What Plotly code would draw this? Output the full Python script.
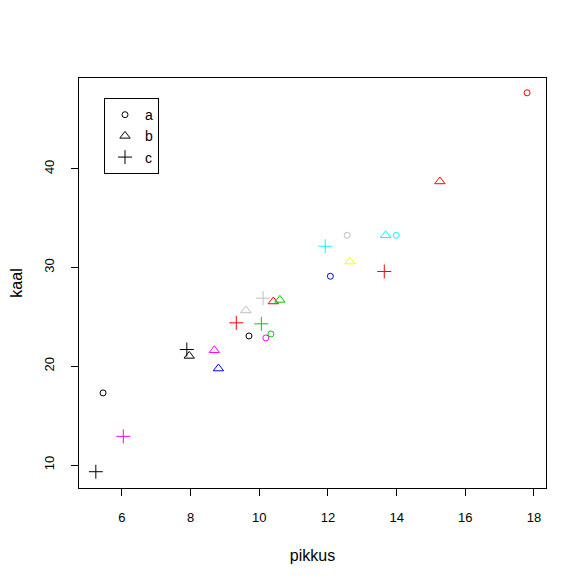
import plotly.graph_objects as go

# group a (circles)
a_x = [5.45, 9.70, 10.19, 10.34, 12.56, 13.99, 12.07, 17.80]
a_y = [17.30, 23.07, 22.87, 23.27, 33.27, 33.27, 29.12, 47.70]
a_col = ["black", "black", "magenta", "#00CD00", "#BEBEBE", "cyan", "blue", "red"]

# group b (triangles)
b_x = [9.61, 10.41, 10.60, 7.96, 8.69, 8.81, 15.26, 13.68, 12.64]
b_y = [25.65, 26.56, 26.72, 21.05, 21.62, 19.77, 38.72, 33.27, 30.61]
b_col = ["#BEBEBE", "red", "#00CD00", "black", "magenta", "blue", "red", "cyan", "yellow"]

# group c (crosses)
c_x = [11.92, 13.64, 10.11, 9.33, 10.06, 7.89, 6.04, 5.24]
c_y = [32.16, 29.60, 26.90, 24.40, 24.30, 21.70, 12.90, 9.32]
c_col = ["cyan", "red", "#BEBEBE", "red", "#00CD00", "black", "magenta", "black"]

x_ticks = [6, 8, 10, 12, 14, 16, 18]
y_ticks = [10, 20, 30, 40]

groups = [
    ("a", a_x, a_y, a_col, "circle-open", 6),
    ("b", b_x, b_y, b_col, "triangle-up-open", 9),
    ("c", c_x, c_y, c_col, "cross-thin-open", 10),
]

fig = go.Figure()
for name, xs, ys, cols, sym, sz in groups:
    fig.add_trace(go.Scatter(
        x=xs, y=ys, mode="markers", showlegend=False,
        marker=dict(symbol=sym, size=sz, color=cols, line=dict(width=1, color=cols)),
    ))
for name, xs, ys, cols, sym, sz in groups:
    fig.add_trace(go.Scatter(
        x=[None], y=[None], mode="markers", name=name,
        marker=dict(symbol=sym, size=sz, color="black", line=dict(width=1, color="black")),
    ))

font = dict(family="Liberation Sans, Arial, sans-serif", size=13, color="black")
fig.update_layout(
    width=586, height=585,
    margin=dict(l=71, r=48, t=70, b=105, autoexpand=False),
    paper_bgcolor="white", plot_bgcolor="white",
    font=font,
    legend=dict(x=0.0535, y=0.951, xanchor="left", yanchor="top",
                bordercolor="black", borderwidth=1, bgcolor="white",
                itemwidth=30, tracegroupgap=0, font=dict(size=14)),
    xaxis=dict(range=[4.75, 18.35], tickvals=x_ticks, ticks="outside", ticklen=7,
               showline=True, mirror=True, linecolor="black", linewidth=1,
               showgrid=False, zeroline=False, tickcolor="black",
               ticklabelstandoff=10, automargin=False,
               title=dict(text="pikkus", standoff=26)),
    yaxis=dict(range=[7.67, 49.2], tickvals=y_ticks, ticks="outside", ticklen=7,
               showline=True, mirror=True, linecolor="black", linewidth=1,
               showgrid=False, zeroline=False, tickcolor="black",
               tickangle=-90, ticklabelstandoff=12, automargin=False,
               title=dict(text="kaal", standoff=16)),
)
fig.write_html("out.html")
